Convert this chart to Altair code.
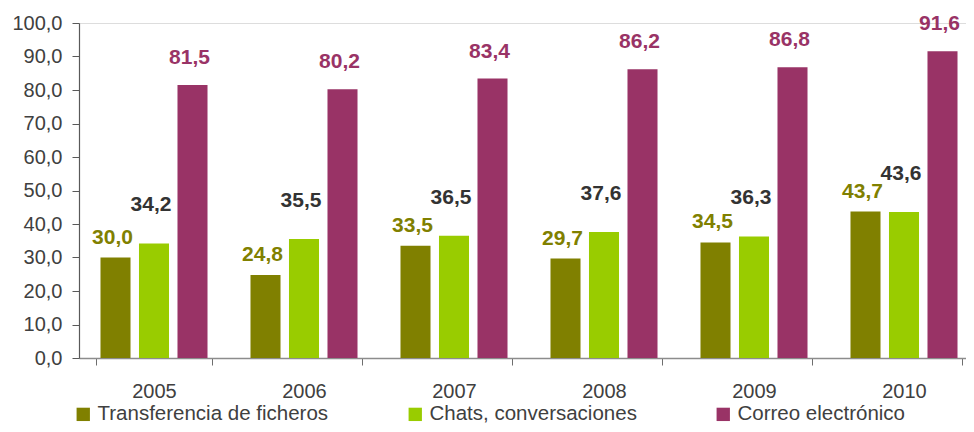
import altair as alt
import pandas as pd

years = ["2005", "2006", "2007", "2008", "2009", "2010"]
series = ["Transferencia de ficheros", "Chats, conversaciones", "Correo electrónico"]
transferencia = [30.0, 24.8, 33.5, 29.7, 34.5, 43.7]
chats = [34.2, 35.5, 36.5, 37.6, 36.3, 43.6]
correo = [81.5, 80.2, 83.4, 86.2, 86.8, 91.6]
colors = ["#808000", "#99CC00", "#993366"]
label_colors = ["#808000", "#333333", "#993366"]
label_dy = [-20, -38, -27]

rows = []
for s, vals in zip(series, [transferencia, chats, correo]):
    for yr, v in zip(years, vals):
        rows.append({"year": yr, "serie": s, "valor": v,
                     "etiqueta": f"{v:.1f}".replace(".", ",")})
df = pd.DataFrame(rows)

FONT = "Liberation Sans"
TXT_COL = "#404040"

x = alt.X("year:N", title=None, sort=years,
          scale=alt.Scale(paddingInner=0.23, paddingOuter=0.115),
          axis=alt.Axis(labelAngle=0, tickBand="extent", tickSize=7, labelPadding=16,
                        domainColor="#8c8c8c", tickColor="#6e6e6e", labelColor=TXT_COL,
                        labelFontSize=20, labelFont=FONT, domainWidth=1.5))
xoff = alt.XOffset("serie:N", sort=series,
                   scale=alt.Scale(paddingInner=0.22, paddingOuter=0.11))
y = alt.Y("valor:Q", title=None,
          scale=alt.Scale(domain=[0, 100], nice=False),
          axis=alt.Axis(values=list(range(0, 101, 10)),
                        labelExpr="replace(format(datum.value, '.1f'), '.', ',')",
                        grid=False, tickSize=7, labelPadding=10,
                        domainColor="#595959", tickColor="#595959", labelColor=TXT_COL,
                        labelFontSize=20, labelFont=FONT, domainWidth=1.2))

bars = alt.Chart(df).mark_bar().encode(
    x=x, xOffset=xoff, y=y,
    color=alt.Color("serie:N", sort=series,
                    scale=alt.Scale(domain=series, range=colors),
                    legend=alt.Legend(title=None, orient="none", direction="horizontal",
                                      columns=3, gridAlign="each", columnPadding=76,
                                      legendX=-6, legendY=381,
                                      symbolType="square", symbolSize=178,
                                      symbolStrokeWidth=0, symbolOpacity=1,
                                      labelFontSize=20.5, labelFont=FONT,
                                      labelColor=TXT_COL, labelOffset=4,
                                      labelLimit=400)),
)

layers = [bars]
for s, c, d in zip(series, label_colors, label_dy):
    layers.append(
        alt.Chart(df).transform_filter(alt.datum.serie == s).mark_text(
            font=FONT, fontSize=21, fontWeight="bold", color=c, dy=d, dx=-3,
            baseline="middle", align="center"
        ).encode(x=x, xOffset=xoff, y=y, text="etiqueta:N")
    )

chart = alt.layer(*layers).properties(
    width=900, height=335,
    autosize=alt.AutoSizeParams(type="none"),
    padding={"left": 71, "top": 15, "right": -13, "bottom": 66},
).configure_view(stroke=None).configure(background="white")

chart.save("out.html", embed_options={"renderer": "svg", "actions": False})
